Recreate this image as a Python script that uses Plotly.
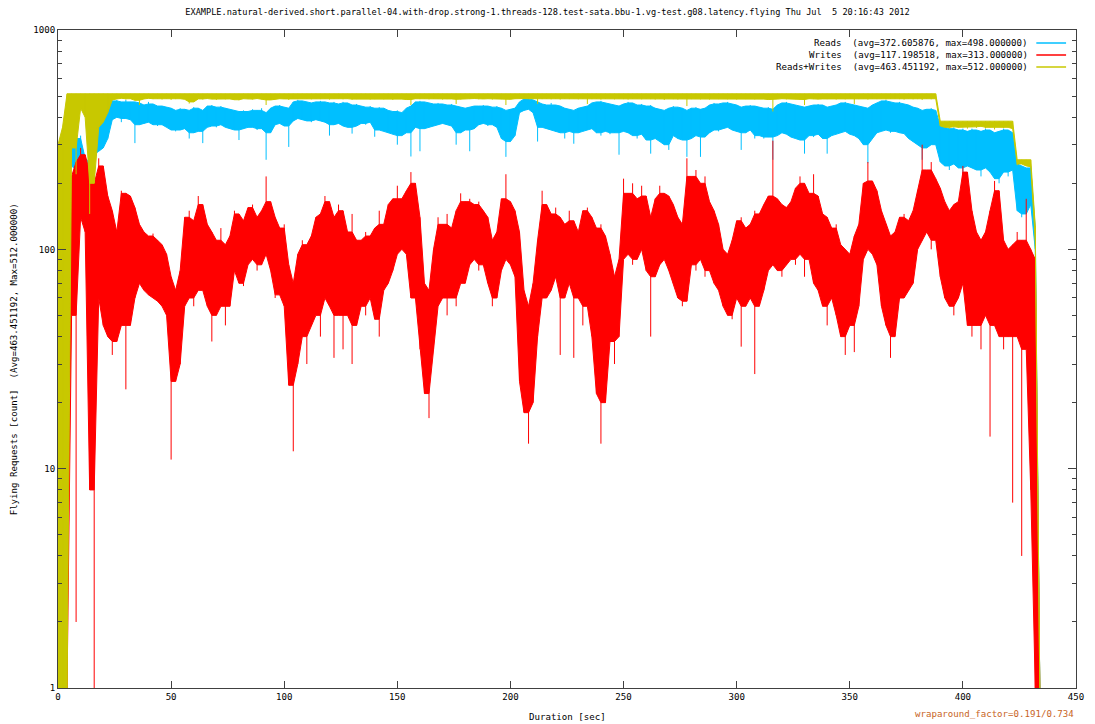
import plotly.graph_objects as go

# Sample times (seconds since start), one bin every 2 s
duration_sec = list(range(0, 436, 2))

# Per-bin envelope (low / high) of flying requests for each series
reads_hi = [
    150, 250, 370, 330, 320, 330, 260, 250, 370, 380,
    430, 470, 475, 480, 470, 480, 470, 470, 465, 455,
    470, 460, 450, 450, 445, 440, 430, 440, 435, 430,
    445, 440, 430, 450, 455, 445, 450, 440, 435, 430,
    425, 430, 425, 435, 430, 440, 420, 440, 450, 455,
    445, 440, 470, 480, 475, 470, 465, 470, 475, 470,
    465, 470, 460, 470, 465, 455, 460, 450, 445, 450,
    440, 445, 440, 430, 425, 430, 420, 440, 450, 470,
    475, 470, 465, 460, 465, 460, 455, 460, 450, 445,
    440, 445, 450, 450, 455, 450, 445, 450, 440, 430,
    435, 440, 470, 485, 490, 480, 470, 460, 455, 465,
    455, 450, 440, 435, 430, 440, 445, 450, 465, 470,
    475, 465, 460, 455, 450, 460, 470, 465, 455, 460,
    450, 455, 440, 435, 430, 440, 450, 445, 440, 430,
    440, 445, 435, 440, 455, 465, 460, 465, 470, 460,
    455, 445, 450, 455, 450, 445, 440, 445, 435, 455,
    465, 470, 460, 455, 450, 445, 450, 455, 460, 455,
    445, 450, 455, 465, 470, 460, 455, 450, 445, 440,
    455, 465, 475, 480, 470, 465, 470, 460, 455, 445,
    440, 430, 435, 440, 430, 365, 360, 355, 360, 350,
    355, 345, 355, 350, 345, 355, 350, 340, 345, 355,
    350, 340, 245, 240, 235, 240, 125, 1,
]
reads_lo = [
    1, 1, 250, 240, 215, 230, 185, 178, 270, 280,
    290, 320, 390, 400, 380, 395, 390, 305, 370, 375,
    380, 370, 365, 370, 360, 350, 345, 350, 355, 320,
    340, 345, 305, 360, 365, 360, 370, 360, 355, 350,
    315, 355, 360, 360, 350, 355, 256, 340, 370, 375,
    365, 293, 385, 395, 390, 385, 380, 390, 385, 380,
    330, 370, 375, 365, 360, 337, 365, 375, 370, 380,
    326, 350, 345, 340, 335, 300, 330, 340, 265, 360,
    280, 355, 360, 365, 370, 375, 370, 365, 300, 340,
    350, 280, 355, 370, 375, 365, 370, 360, 320, 264,
    310, 330, 420, 430, 435, 420, 310, 360, 355, 350,
    345, 340, 320, 345, 303, 340, 345, 350, 355, 340,
    330, 345, 335, 340, 270, 345, 340, 330, 320, 335,
    315, 273, 320, 310, 300, 284, 330, 320, 315, 264,
    320, 330, 264, 325, 340, 350, 345, 355, 360, 350,
    345, 284, 340, 350, 320, 330, 320, 325, 256, 330,
    340, 335, 325, 320, 315, 273, 330, 325, 335, 320,
    273, 330, 335, 340, 345, 335, 330, 320, 300, 247,
    320, 340, 345, 350, 340, 345, 340, 337, 320, 310,
    300, 256, 290, 300, 300, 250, 240, 230, 245, 235,
    220, 240, 235, 230, 215, 235, 225, 210, 200, 225,
    215, 230, 150, 140, 145, 160, 100, 1,
]
writes_hi = [
    29, 11, 205, 215, 250, 290, 270, 225, 200, 260,
    240, 175, 150, 120, 185, 180, 175, 155, 130, 120,
    115, 118, 110, 105, 95, 75, 65, 80, 140, 150,
    135, 175, 160, 130, 120, 110, 125, 105, 115, 150,
    145, 135, 155, 160, 140, 150, 215, 165, 140, 125,
    130, 85, 70, 95, 110, 105, 115, 140, 145, 175,
    165, 140, 160, 150, 120, 145, 110, 110, 120, 115,
    125, 150, 130, 160, 170, 195, 170, 185, 225, 200,
    140, 70, 65, 100, 140, 130, 145, 125, 150, 180,
    165, 170, 160, 165, 150, 140, 110, 120, 170, 220,
    165, 150, 120, 65, 55, 70, 110, 185, 160, 145,
    155, 140, 130, 150, 135, 120, 150, 155, 140, 125,
    130, 115, 95, 75, 90, 210, 180, 200, 170, 195,
    175, 140, 170, 195, 180, 175, 160, 140, 130, 260,
    215, 230, 200, 215, 165, 150, 130, 100, 95, 110,
    135, 140, 125, 130, 150, 145, 160, 175, 313, 170,
    160, 155, 165, 190, 215, 200, 180, 220, 175, 145,
    140, 125, 130, 105, 100, 95, 115, 130, 200, 250,
    205, 185, 150, 130, 115, 120, 140, 145, 135, 150,
    185, 300, 230, 250, 210, 190, 165, 150, 160, 165,
    240, 225, 150, 120, 110, 120, 150, 205, 185, 110,
    100, 105, 120, 110, 170, 100, 90, 1,
]
writes_lo = [
    1, 1, 1, 50, 2, 140, 120, 8, 1, 60,
    45, 40, 33, 38, 45, 23, 45, 60, 70, 65,
    62, 60, 58, 55, 50, 11, 25, 30, 55, 60,
    55, 65, 65, 55, 38, 50, 55, 45, 55, 80,
    70, 68, 85, 90, 80, 85, 95, 80, 60, 62,
    55, 24, 12, 30, 40, 30, 45, 50, 40, 60,
    55, 32, 50, 35, 50, 30, 45, 55, 50, 60,
    48, 40, 65, 70, 80, 95, 100, 95, 60, 60,
    35, 22, 17, 35, 55, 60, 50, 60, 55, 70,
    70, 85, 90, 80, 85, 70, 55, 60, 80, 90,
    85, 75, 25, 18, 13, 20, 40, 60, 60, 65,
    75, 33, 60, 70, 32, 60, 45, 55, 40, 22,
    13, 20, 38, 30, 40, 90, 95, 85, 90, 100,
    80, 40, 75, 85, 90, 80, 70, 60, 55, 58,
    85, 80, 90, 75, 80, 70, 65, 55, 50, 48,
    60, 36, 55, 60, 27, 55, 65, 80, 85, 80,
    75, 85, 90, 85, 95, 75, 90, 70, 65, 55,
    45, 60, 50, 40, 33, 45, 34, 55, 90, 100,
    95, 85, 55, 45, 32, 40, 60, 60, 65, 70,
    100, 110, 120, 100, 110, 75, 60, 55, 50, 60,
    70, 45, 40, 45, 35, 50, 14, 45, 40, 35,
    40, 7, 40, 4, 35, 8, 1, 1,
]
rw_hi = [
    300, 360, 512, 512, 512, 512, 512, 512, 512, 512,
    512, 512, 512, 512, 512, 512, 512, 512, 512, 512,
    512, 512, 512, 512, 512, 512, 512, 512, 512, 512,
    512, 512, 512, 512, 512, 512, 512, 512, 512, 512,
    512, 512, 512, 512, 512, 512, 512, 512, 512, 512,
    512, 512, 512, 512, 512, 512, 512, 512, 512, 512,
    512, 512, 512, 512, 512, 512, 512, 512, 512, 512,
    512, 512, 512, 512, 512, 512, 512, 512, 512, 512,
    512, 512, 512, 512, 512, 512, 512, 512, 512, 512,
    512, 512, 512, 512, 512, 512, 512, 512, 512, 512,
    512, 512, 512, 512, 512, 512, 512, 512, 512, 512,
    512, 512, 512, 512, 512, 512, 512, 512, 512, 512,
    512, 512, 512, 512, 512, 512, 512, 512, 512, 512,
    512, 512, 512, 512, 512, 512, 512, 512, 512, 512,
    512, 512, 512, 512, 512, 512, 512, 512, 512, 512,
    512, 512, 512, 512, 512, 512, 512, 512, 512, 512,
    512, 512, 512, 512, 512, 512, 512, 512, 512, 512,
    512, 512, 512, 512, 512, 512, 512, 512, 512, 512,
    512, 512, 512, 512, 512, 512, 512, 512, 512, 512,
    512, 512, 512, 512, 512, 384, 384, 384, 384, 384,
    384, 384, 384, 384, 384, 384, 384, 384, 384, 384,
    384, 384, 256, 256, 256, 256, 128, 1,
]
rw_lo = [
    1, 1, 1, 290, 220, 440, 400, 145, 200, 360,
    380, 420, 480, 485, 488, 482, 486, 478, 455, 485,
    488, 484, 486, 482, 487, 480, 484, 486, 483, 462,
    470, 485, 482, 487, 484, 480, 486, 483, 485, 481,
    478, 486, 484, 482, 487, 483, 455, 480, 484, 486,
    485, 480, 486, 484, 488, 485, 483, 487, 484, 486,
    482, 485, 487, 483, 486, 481, 484, 487, 485, 482,
    484, 486, 483, 485, 480, 486, 484, 482, 455, 486,
    484, 487, 483, 485, 486, 482, 484, 485, 460, 483,
    486, 484, 487, 483, 485, 486, 482, 485, 484, 455,
    483, 486, 488, 487, 485, 486, 460, 484, 486, 483,
    485, 482, 486, 484, 487, 483, 485, 460, 484, 486,
    482, 485, 487, 483, 486, 484, 482, 485, 487, 483,
    486, 484, 482, 485, 480, 486, 484, 482, 485, 450,
    484, 486, 483, 485, 482, 487, 484, 486, 483, 485,
    482, 486, 484, 485, 483, 486, 484, 482, 425, 484,
    486, 483, 485, 484, 482, 455, 486, 484, 483, 485,
    484, 486, 482, 485, 483, 487, 460, 484, 486, 482,
    485, 484, 486, 483, 485, 487, 484, 482, 486, 483,
    484, 480, 485, 483, 486, 365, 360, 355, 362, 358,
    360, 355, 362, 358, 364, 356, 360, 352, 362, 357,
    360, 355, 242, 245, 240, 238, 110, 1,
]

series_names = ["Reads", "Writes", "Reads+Writes"]
series_avg = ["372.605876", "117.198518", "463.451192"]
series_max = ["498.000000", "313.000000", "512.000000"]
series_colors = ["#00bfff", "#ff0000", "#c8c800"]
series_bands = [(reads_lo, reads_hi), (writes_lo, writes_hi), (rw_lo, rw_hi)]

y_major = [1, 10, 100, 1000]
y_major_text = ["1", "10", "100", "1000"]
y_minor = [2, 3, 4, 5, 6, 7, 8, 9,
           20, 30, 40, 50, 60, 70, 80, 90,
           200, 300, 400, 500, 600, 700, 800, 900]
x_ticks = [0, 50, 100, 150, 200, 250, 300, 350, 400, 450]

FONT = "DejaVu Sans Mono"
AXIS = "#404040"


def band_core(lo, hi):
    """Solid body of a band: isolated one-bin spikes are left to the strokes."""
    lo_c, hi_c = list(lo), list(hi)
    for i in range(1, len(lo) - 1):
        lo_c[i] = max(lo[i], min(lo[i - 1], lo[i + 1]))
        hi_c[i] = min(hi[i], max(hi[i - 1], hi[i + 1]))
    return lo_c, hi_c


def strokes(t, lo, hi):
    """Vertical min-max stroke for every bin."""
    xs, ys = [], []
    for ti, a, b in zip(t, lo, hi):
        xs += [ti, ti, None]
        ys += [a, b, None]
    return xs, ys


fig = go.Figure()
for (lo, hi), color in zip(series_bands, series_colors):
    lo_c, hi_c = band_core(lo, hi)
    fig.add_trace(go.Scatter(
        x=duration_sec, y=lo_c, mode="lines",
        line=dict(color=color, width=1), showlegend=False, hoverinfo="skip"))
    fig.add_trace(go.Scatter(
        x=duration_sec, y=hi_c, mode="lines",
        line=dict(color=color, width=1), fill="tonexty", fillcolor=color,
        showlegend=False, hoverinfo="skip"))
    sx, sy = strokes(duration_sec, lo, hi)
    fig.add_trace(go.Scatter(
        x=sx, y=sy, mode="lines", connectgaps=False,
        line=dict(color=color, width=1), showlegend=False, hoverinfo="skip"))

# plot area in pixels: x 58..1084, y 30..688
L, R, T, B = 58, 1084, 30, 688
W, H = 1095, 724


def px(xp):
    return (xp - L) / (R - L)


def py(yp):
    return (B - yp) / (B - T)


annotations = []
shapes = []
for i, (name, avg, mx, color) in enumerate(zip(series_names, series_avg, series_max, series_colors)):
    yy = py(43 + 12 * i)
    annotations.append(dict(
        text=f"{name}  (avg={avg}, max={mx})", xref="paper", yref="paper",
        x=px(1038), y=yy, xanchor="right", yanchor="middle", showarrow=False,
        font=dict(family=FONT, size=9.1, color="black")))
    shapes.append(dict(type="line", xref="paper", yref="paper",
                       x0=px(1044), x1=px(1074), y0=yy, y1=yy,
                       line=dict(color=color, width=1.5)))

annotations += [
    dict(text="Flying Requests [count]  (Avg=463.451192, Max=512.000000)",
         xref="paper", yref="paper", x=px(14), y=0.5, textangle=-90,
         xanchor="center", yanchor="middle", showarrow=False,
         font=dict(family=FONT, size=9.1, color="black")),
    dict(text="Duration [sec]", xref="paper", yref="paper", x=0.5, y=py(717),
         xanchor="center", yanchor="middle", showarrow=False,
         font=dict(family=FONT, size=9.1, color="black")),
    dict(text="wraparound_factor=0.191/0.734", xref="paper", yref="paper",
         x=px(1084), y=py(714), xanchor="right", yanchor="middle", showarrow=False,
         font=dict(family=FONT, size=9.1, color="#c8641e")),
]

fig.update_layout(
    width=W, height=H,
    margin=dict(l=L, r=W - R, t=T, b=H - B, pad=0),
    paper_bgcolor="white", plot_bgcolor="white",
    font=dict(family=FONT, size=9.1, color="black"),
    title=dict(
        text="EXAMPLE.natural-derived.short.parallel-04.with-drop.strong-1.threads-128."
             "test-sata.bbu-1.vg-test.g08.latency.flying Thu Jul  5 20:16:43 2012",
        x=0.5, xref="container", xanchor="center",
        y=1 - 12 / H, yref="container", yanchor="middle",
        font=dict(family=FONT, size=8.6, color="black")),
    xaxis=dict(range=[0, 450], tickvals=x_ticks, ticks="inside", ticklen=7,
               tickcolor=AXIS, showline=True, linecolor=AXIS, linewidth=1,
               mirror="ticks", showgrid=False, zeroline=False,
               tickfont=dict(family=FONT, size=9.1, color="black")),
    yaxis=dict(type="log", range=[0, 3], tickvals=y_major, ticktext=y_major_text,
               ticks="inside", ticklen=8, tickcolor=AXIS, showline=True,
               linecolor=AXIS, linewidth=1, mirror="ticks", showgrid=False,
               zeroline=False, tickfont=dict(family=FONT, size=9.1, color="black"),
               minor=dict(tickvals=y_minor, ticks="inside", ticklen=4,
                          tickcolor=AXIS, showgrid=False)),
    annotations=annotations,
    shapes=shapes,
    showlegend=False,
)

fig.write_html("out.html")
